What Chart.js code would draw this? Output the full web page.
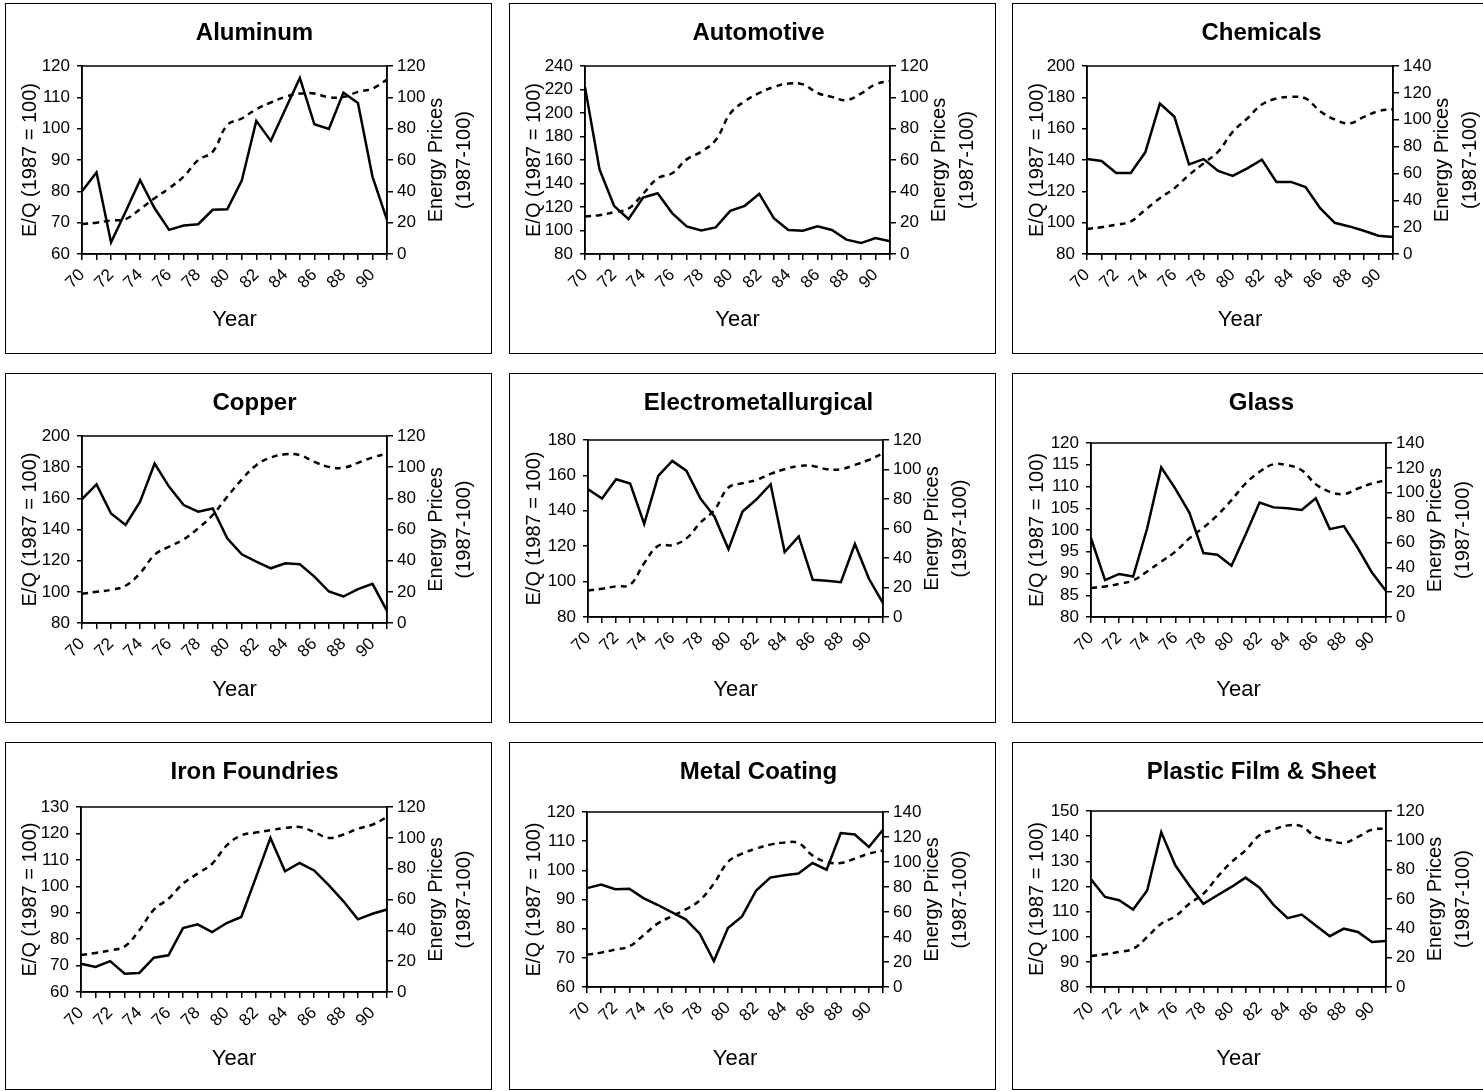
<!DOCTYPE html>
<html>
<head>
<meta charset="utf-8">
<script src="https://cdn.jsdelivr.net/npm/chart.js@4.4.1/dist/chart.umd.min.js"></script>
<style>
  body { margin: 0; width: 1483px; height: 1091px; overflow: hidden; background: #fff; position: relative; }
  .panel { position: absolute; border: 1px solid #000; box-sizing: border-box; width: 487px; background: #fff; }
  canvas { display: block; }
</style>
</head>
<body>
<script>
// years 1970..1991, labelled every other year
const years = ['70','71','72','73','74','75','76','77','78','79','80','81','82','83','84','85','86','87','88','89','90','91'];

// E/Q (1987 = 100), solid lines
const aluminumEQ   = [80, 86, 63.7, 73.5, 83.6, 74.6, 67.7, 69.1, 69.5, 74.1, 74.3, 83.4, 102.5, 96.1, 106.2, 116.2, 101.4, 99.9, 111.5, 108.2, 84.7, 70.9];
const automotiveEQ = [222, 152, 121, 109.7, 128, 131.7, 114.8, 103.5, 100, 102.6, 116.7, 121, 131.2, 110.5, 100.4, 99.8, 103.5, 100.4, 92.2, 89.3, 93.6, 90.8];
const chemicalsEQ  = [140.6, 139.4, 131.7, 131.7, 144.9, 176, 167.6, 137.2, 140.6, 133, 129.8, 134.7, 140.2, 126, 126, 122.8, 109.3, 99.9, 97.6, 94.8, 91.7, 90.8];
const copperEQ     = [159.5, 168.9, 150.3, 142.9, 157.8, 182.3, 167.4, 155.7, 151.4, 153.5, 134.3, 124.1, 119.4, 115.1, 118.3, 117.7, 109.8, 100.2, 97, 101.7, 105.1, 87.8];
const electroEQ    = [152.2, 146.9, 157.8, 155.4, 132.6, 159.7, 168.2, 162.7, 147, 136.8, 118.3, 139.6, 146.5, 155, 116.7, 125.5, 101, 100.5, 99.7, 121.2, 101.6, 87.9];
const glassEQ      = [98.1, 88.5, 89.9, 89.3, 100.4, 114.4, 109.5, 104, 94.7, 94.3, 91.8, 98.9, 106.3, 105.2, 105, 104.6, 107.3, 100.2, 100.9, 95.8, 90.2, 86];
const ironEQ       = [70.7, 69.5, 71.7, 66.9, 67.2, 73, 73.9, 84.2, 85.6, 82.7, 86.1, 88.4, 103.3, 118.3, 105.7, 108.8, 106, 100.4, 94.4, 87.5, 89.6, 91.2];
const metalEQ      = [93.9, 95.1, 93.5, 93.7, 90.5, 88.2, 85.7, 83.2, 78.3, 68.9, 80.2, 84.2, 93.1, 97.5, 98.3, 98.9, 102.5, 100.2, 112.8, 112.3, 108, 113.9];
const plasticEQ    = [122.8, 115.8, 114.5, 110.8, 118.4, 141.6, 128.4, 120.4, 113.1, 116.5, 119.8, 123.5, 119.5, 112.7, 107.4, 108.8, 104.5, 100.2, 103.2, 101.9, 97.9, 98.3];

// Energy prices (1987-100), dashed lines
const aluminumPrice   = [19.1, 20, 21.4, 22.3, 28.6, 35.6, 42, 49.4, 60, 65.3, 82.3, 86.5, 92.4, 96.7, 100.3, 102.4, 102.4, 100, 100.3, 103.5, 105.6, 111.3];
const automotivePrice = [24, 24.8, 26.7, 29, 38.4, 48.3, 51.5, 60.4, 65.3, 72.7, 89.7, 97.5, 102.8, 106.6, 108.8, 108.3, 102.8, 100.3, 98.2, 102.4, 108.3, 110.5];
const chemicalsPrice  = [18.6, 20, 21.8, 24.2, 32.9, 41.6, 49, 58.9, 67.5, 76.2, 91, 100.9, 111.3, 115.8, 117, 115.8, 106.4, 100.2, 97.2, 102.1, 106.4, 107.8];
const copperPrice     = [18.8, 20, 21.3, 23.9, 32, 43.7, 49, 53.7, 60.8, 69.3, 81, 92.1, 101.3, 106.2, 108.3, 107.7, 103.4, 100.2, 99.6, 102.8, 106.2, 108.7];
const electroPrice    = [18, 19.2, 20.8, 21.9, 36.5, 48.3, 48.7, 53.2, 64, 72.6, 87.8, 90.7, 92.9, 97, 100.2, 102.4, 102.4, 100.2, 100.2, 103.1, 106.5, 111];
const glassPrice      = [23.2, 24.6, 26.7, 29.4, 36.6, 44.6, 52.6, 63.3, 71.9, 82, 94, 107.4, 116.8, 122.9, 122.1, 118.1, 106.9, 100.7, 98.9, 103.4, 107.4, 110];
const ironPrice       = [24, 25.3, 27, 29.6, 40, 53.4, 60.5, 70.3, 76.8, 83.2, 95.1, 101.6, 103.4, 104.9, 106.4, 107, 103.8, 99.9, 102.1, 105.9, 108.5, 113.5];
const metalPrice      = [25.9, 27.5, 29.9, 32.5, 41.3, 50.7, 56.5, 62.1, 69.3, 82.7, 100, 106.7, 110.7, 113.9, 115.5, 115.2, 105.3, 100, 99.2, 102.7, 106.7, 109.3];
const plasticPrice    = [21.1, 22.3, 23.9, 26.1, 34.1, 43.2, 48.2, 56.8, 63.6, 75, 85.2, 93.2, 103.4, 107.3, 110.2, 109.5, 102.3, 100, 98.2, 102.3, 107.3, 108];

const titles = ['Aluminum', 'Automotive', 'Chemicals', 'Copper', 'Electrometallurgical', 'Glass', 'Iron Foundries', 'Metal Coating', 'Plastic Film & Sheet'];
const eqSeries = [aluminumEQ, automotiveEQ, chemicalsEQ, copperEQ, electroEQ, glassEQ, ironEQ, metalEQ, plasticEQ];
const priceSeries = [aluminumPrice, automotivePrice, chemicalsPrice, copperPrice, electroPrice, glassPrice, ironPrice, metalPrice, plasticPrice];
// left axis [min, max, step], right axis max
const leftRange = [[60, 120, 10], [80, 240, 20], [80, 200, 20], [80, 200, 20], [80, 180, 20], [80, 120, 5], [60, 130, 10], [60, 120, 10], [80, 150, 10]];
const rightMax = [120, 120, 140, 120, 120, 140, 120, 140, 120];

// layout of the panels and their plot areas (canvas coords: left, right, top, bottom)
const colX = [5, 509, 1012];
const rowY = [3, 373, 742];
const rowH = [351, 350, 348];
const plotBox = [
  [76, 381, 62, 250], [75, 380, 62, 250], [74, 380, 62, 250],
  [76, 381, 62, 249], [78, 373, 66, 243], [78, 373, 69, 243],
  [75, 381, 64, 249], [77, 373, 69, 244], [78, 373, 68, 244]
];

const FONT = '"Liberation Sans", Arial, Helvetica, sans-serif';
Chart.defaults.font.family = FONT;
Chart.defaults.color = '#000';

const frame = {
  id: 'frame',
  afterDraw(chart) {
    const { ctx, chartArea: a } = chart;
    ctx.save();
    ctx.strokeStyle = '#000';
    ctx.lineWidth = 1.5;
    ctx.strokeRect(a.left, a.top, a.right - a.left, a.bottom - a.top);
    // right axis title, reading bottom to top
    ctx.fillStyle = '#000';
    ctx.font = '20px ' + FONT;
    ctx.textAlign = 'center';
    ctx.textBaseline = 'middle';
    const cy = (a.top + a.bottom) / 2;
    [['Energy Prices', 49], ['(1987-100)', 77]].forEach(function (t) {
      ctx.save();
      ctx.translate(a.right + t[1], cy);
      ctx.rotate(-Math.PI / 2);
      ctx.fillText(t[0], 0, 0);
      ctx.restore();
    });
    ctx.restore();
  }
};

titles.forEach(function (title, k) {
  const col = k % 3, row = Math.floor(k / 3);
  const h = rowH[row];
  const W = 485, H = h - 2;
  const box = plotBox[k];
  const padLeft = 12;
  const xBottom = 329;

  const div = document.createElement('div');
  div.className = 'panel';
  div.style.left = colX[col] + 'px';
  div.style.top = rowY[row] + 'px';
  div.style.height = h + 'px';
  const canvas = document.createElement('canvas');
  canvas.width = W;
  canvas.height = H;
  div.appendChild(canvas);
  document.body.appendChild(div);

  const titleSize = 24;
  const titleTop = 15;
  const titleLine = titleSize * 1.2;

  new Chart(canvas, {
    type: 'line',
    data: {
      labels: years,
      datasets: [
        {
          data: eqSeries[k],
          yAxisID: 'y',
          borderColor: '#000',
          borderWidth: 2.5,
          pointRadius: 0,
          tension: 0,
          fill: false
        },
        {
          data: priceSeries[k],
          yAxisID: 'y1',
          borderColor: '#000',
          borderWidth: 2.5,
          borderDash: [6, 5],
          pointRadius: 0,
          tension: 0.4,
          fill: false
        }
      ]
    },
    options: {
      responsive: false,
      animation: false,
      layout: { padding: { left: padLeft, right: 0, top: 0, bottom: H - xBottom } },
      plugins: {
        legend: { display: false },
        tooltip: { enabled: false },
        title: {
          display: true,
          text: title,
          color: '#000',
          font: { size: titleSize, weight: 'bold' },
          padding: { top: titleTop, bottom: box[2] - titleTop - titleLine }
        }
      },
      scales: {
        x: {
          type: 'category',
          offset: false,
          grid: { drawOnChartArea: false, color: '#000', tickLength: 6, lineWidth: 1.5 },
          border: { color: '#000', width: 1.5 },
          ticks: {
            autoSkip: false,
            minRotation: 45,
            maxRotation: 45,
            padding: 5,
            font: { size: 17 },
            color: '#000',
            callback: function (v, i) { return i % 2 === 0 ? years[i] : ''; }
          },
          title: { display: true, text: 'Year', font: { size: 22 }, color: '#000', padding: 0 },
          afterFit: function (s) { s.height = xBottom - box[3]; }
        },
        y: {
          position: 'left',
          min: leftRange[k][0],
          max: leftRange[k][1],
          grid: { drawOnChartArea: false, color: '#000', tickLength: 5, lineWidth: 1.5 },
          border: { color: '#000', width: 1.5 },
          ticks: { stepSize: leftRange[k][2], autoSkip: false, font: { size: 17 }, color: '#000', padding: 7 },
          title: { display: true, text: 'E/Q (1987 = 100)', font: { size: 20 }, color: '#000', padding: 0 },
          afterFit: function (s) { s.width = box[0] - padLeft; }
        },
        y1: {
          position: 'right',
          min: 0,
          max: rightMax[k],
          grid: { drawOnChartArea: false, color: '#000', tickLength: 6, lineWidth: 1.5 },
          border: { color: '#000', width: 1.5 },
          ticks: { stepSize: 20, autoSkip: false, font: { size: 17 }, color: '#000', padding: 4 },
          afterFit: function (s) { s.width = W - box[1]; }
        }
      }
    },
    plugins: [frame]
  });
});
</script>
</body>
</html>
